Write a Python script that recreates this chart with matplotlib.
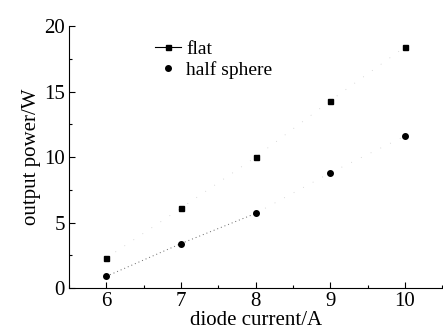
import numpy as np
import matplotlib.pyplot as plt
from matplotlib.lines import Line2D
from matplotlib.ticker import MultipleLocator

# diode current (A)
current = [6, 7, 8, 9, 10]
# output power (W)
flat = [2.3, 6.1, 10.0, 14.3, 18.4]
half_sphere = [0.9, 3.4, 5.7, 8.8, 11.6]

plt.rcParams['font.family'] = ['Liberation Serif', 'DejaVu Serif']

fig = plt.figure(figsize=(4.43, 3.35), dpi=100)
ax = fig.add_axes([0.156, 0.14, 0.842, 0.782])

# faint dotted trend lines (mostly lost in the scan)
ax.plot(current, flat, linestyle=(0, (1, 12)), color='#cccccc', linewidth=0.6)
ax.plot(current[:3], half_sphere[:3], linestyle=(0, (1, 3)), color='#666666', linewidth=0.7)
ax.plot(current[2:], half_sphere[2:], linestyle=(0, (1, 12)), color='#cccccc', linewidth=0.6)

ax.plot(current, flat, 's', color='black', markersize=3.6)
ax.plot(current, half_sphere, 'o', color='black', markersize=4)

ax.set_xlim(5.5, 10.5)
ax.set_ylim(0, 20)
ax.set_xticks([6, 7, 8, 9, 10])
ax.set_yticks([0, 5, 10, 15, 20])
ax.xaxis.set_minor_locator(MultipleLocator(0.5))
ax.yaxis.set_minor_locator(MultipleLocator(2.5))
ax.tick_params(which='both', direction='in', labelsize=15, length=4, width=0.8, pad=3)
ax.tick_params(which='minor', length=2.5)

ax.spines['top'].set_visible(False)
ax.spines['right'].set_visible(False)

ax.set_xlabel('diode current/A', fontsize=15, labelpad=0)
ax.set_ylabel('output power/W', fontsize=15, labelpad=2)

handles = [
    Line2D([], [], color='black', linewidth=0.8, marker='s', markersize=3.6),
    Line2D([], [], color='black', linestyle='none', marker='o', markersize=4),
]
ax.legend(handles, ['flat', 'half sphere'], loc='upper left', bbox_to_anchor=(0.2, 0.99),
          frameon=False, fontsize=14, handlelength=1.3, handletextpad=0.3,
          borderaxespad=0.2, labelspacing=0.15)

fig.savefig('out.png', dpi=100)
